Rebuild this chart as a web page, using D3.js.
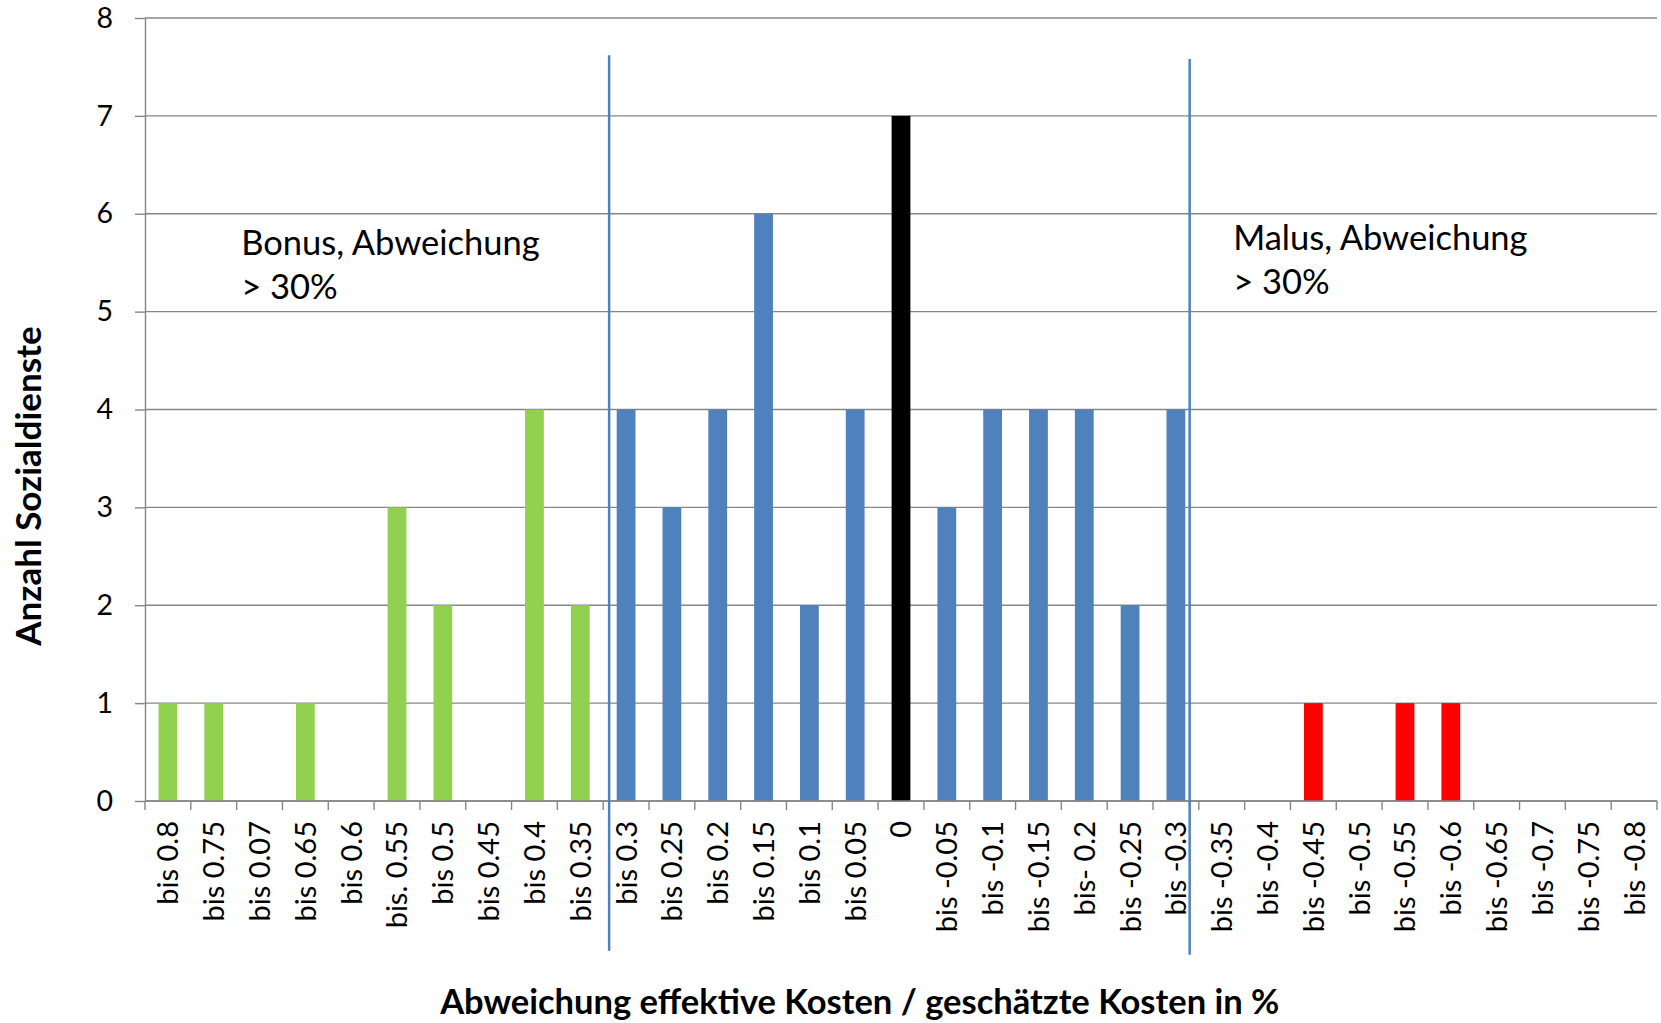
<!DOCTYPE html>
<meta charset="utf-8">
<style>
    body { margin: 0; background: #fff; }
    text { font-family: Lato, "Open Sans", sans-serif; fill: #000; }
    .grid line { stroke: #868686; stroke-width: 1.4; }
    .axis path, .axis line { stroke: #868686; stroke-width: 1.4; }
</style>
<svg width="1661" height="1023"></svg>
<script src="https://cdnjs.cloudflare.com/ajax/libs/d3/7.8.5/d3.min.js"></script>
<script>

    // categories and counts
    var categories = ["bis 0.8", "bis 0.75", "bis 0.07", "bis 0.65", "bis 0.6", "bis. 0.55", "bis 0.5", "bis 0.45", "bis 0.4", "bis 0.35",
        "bis 0.3", "bis 0.25", "bis 0.2", "bis 0.15", "bis 0.1", "bis 0.05", "0",
        "bis -0.05", "bis -0.1", "bis -0.15", "bis- 0.2", "bis -0.25", "bis -0.3",
        "bis -0.35", "bis -0.4", "bis -0.45", "bis -0.5", "bis -0.55", "bis -0.6", "bis -0.65", "bis -0.7", "bis -0.75", "bis -0.8"];
    var counts = [1, 1, 0, 1, 0, 3, 2, 0, 4, 2,
        4, 3, 4, 6, 2, 4, 7,
        3, 4, 4, 4, 2, 4,
        0, 0, 1, 0, 1, 1, 0, 0, 0, 0];
    var groups = ["bonus", "bonus", "bonus", "bonus", "bonus", "bonus", "bonus", "bonus", "bonus", "bonus",
        "mid", "mid", "mid", "mid", "mid", "mid", "zero",
        "mid", "mid", "mid", "mid", "mid", "mid",
        "malus", "malus", "malus", "malus", "malus", "malus", "malus", "malus", "malus", "malus"];
    var groupColors = { bonus: "#92D050", mid: "#4F81BD", zero: "#000000", malus: "#FF0000" };
    var yTicks = [0, 1, 2, 3, 4, 5, 6, 7, 8];

    // separator lines: position in category units, and y extent in value units
    var separators = [
        { pos: 10.13, top: 7.62, bottom: -1.53 },
        { pos: 22.8, top: 7.58, bottom: -1.57 }
    ];
    var notes = [
        { pos: 2.1, lines: ["Bonus, Abweichung", "> 30%"], value: 5.58 },
        { pos: 23.75, lines: ["Malus, Abweichung", "> 30%"], value: 5.63 }
    ];

    var svg = d3.select("svg"),
        margin = { top: 18, right: 4, bottom: 222, left: 145 },
        width = +svg.attr("width") - margin.left - margin.right,
        height = +svg.attr("height") - margin.top - margin.bottom;

    var g = svg.append("g").attr("transform", "translate(" + margin.left + "," + margin.top + ")");

    var x = d3.scaleBand()
        .domain(categories)
        .range([0, width])
        .paddingInner(0.59)
        .paddingOuter(0.295);

    var xPos = d3.scaleLinear()
        .domain([0, categories.length])
        .range([0, width]);

    var y = d3.scaleLinear()
        .domain([0, 8])
        .range([height, 0]);

    // gridlines
    g.append("g")
        .attr("class", "grid")
        .selectAll("line")
        .data(yTicks)
        .enter().append("line")
        .attr("x1", 0)
        .attr("x2", width)
        .attr("y1", function(d) { return y(d); })
        .attr("y2", function(d) { return y(d); });

    // y axis
    var yAxis = g.append("g")
        .attr("class", "axis")
        .call(d3.axisLeft(y).tickValues(yTicks).tickSize(10).tickSizeOuter(0));
    yAxis.selectAll("text")
        .attr("x", -32)
        .style("font-size", "28.5px")
        .style("font-family", "Lato, sans-serif");

    // bars
    g.selectAll(".bar")
        .data(categories)
        .enter().append("rect")
        .attr("class", "bar")
        .attr("x", function(d) { return x(d); })
        .attr("width", x.bandwidth())
        .attr("y", function(d, i) { return y(counts[i]); })
        .attr("height", function(d, i) { return height - y(counts[i]); })
        .attr("fill", function(d, i) { return groupColors[groups[i]]; });

    // x axis line and boundary ticks
    var xAxis = g.append("g")
        .attr("class", "axis")
        .attr("transform", "translate(0," + height + ")");
    xAxis.append("line")
        .attr("x1", 0).attr("x2", width);
    xAxis.selectAll(".tick")
        .data(d3.range(categories.length + 1))
        .enter().append("line")
        .attr("x1", function(d) { return xPos(d); })
        .attr("x2", function(d) { return xPos(d); })
        .attr("y1", 0)
        .attr("y2", 9);
    xAxis.selectAll(".lbl")
        .data(categories)
        .enter().append("text")
        .attr("transform", function(d) {
            return "translate(" + (x(d) + x.bandwidth() / 2) + ",20) rotate(-90)";
        })
        .attr("dy", "0.36em")
        .attr("text-anchor", "end")
        .style("font-size", "29px")
        .text(function(d) { return d; });

    // separators
    g.selectAll(".sep")
        .data(separators)
        .enter().append("line")
        .attr("x1", function(d) { return xPos(d.pos); })
        .attr("x2", function(d) { return xPos(d.pos); })
        .attr("y1", function(d) { return y(d.top); })
        .attr("y2", function(d) { return y(d.bottom); })
        .attr("stroke", "#4F81BD")
        .attr("stroke-width", 2.5);

    // annotations
    notes.forEach(function(n) {
        var t = g.append("text")
            .attr("x", xPos(n.pos))
            .attr("y", y(n.value))
            .style("font-size", "34.5px");
        n.lines.forEach(function(l, i) {
            t.append("tspan")
                .attr("x", xPos(n.pos))
                .attr("dy", i === 0 ? 0 : 44.5)
                .text(l);
        });
    });

    // axis titles
    svg.append("text")
        .attr("x", margin.left + xPos(15.6))
        .attr("y", 1014)
        .attr("text-anchor", "middle")
        .style("font-size", "34.5px")
        .style("font-weight", "bold")
        .text("Abweichung effektive Kosten / geschätzte Kosten in %");

    svg.append("text")
        .attr("transform", "translate(41,486) rotate(-90)")
        .attr("text-anchor", "middle")
        .style("font-size", "35px")
        .style("font-weight", "bold")
        .text("Anzahl Sozialdienste");

</script>
